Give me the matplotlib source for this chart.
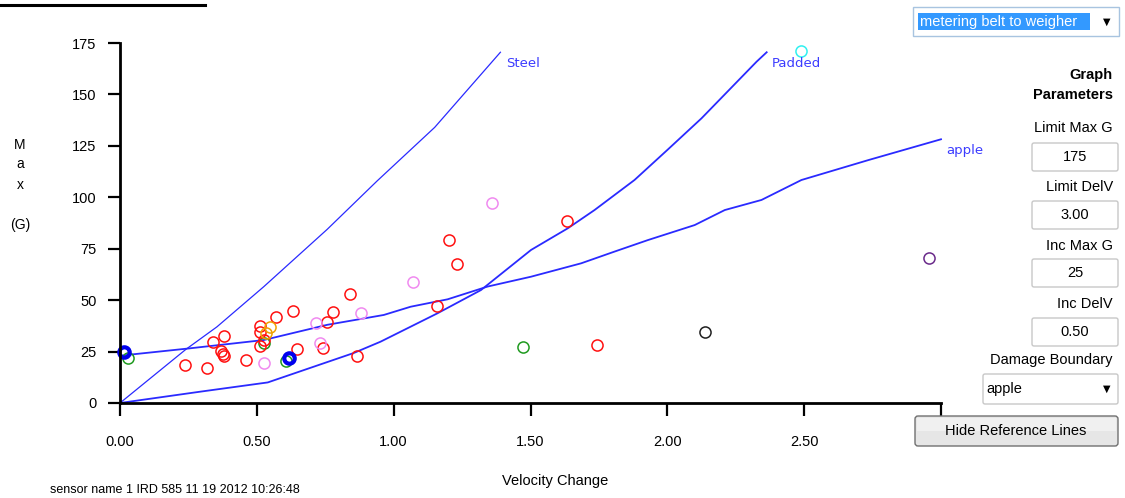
import matplotlib
matplotlib.use("Agg")
import matplotlib.pyplot as plt
from matplotlib.patches import Rectangle, FancyBboxPatch

# ---------------- data ----------------
steel_x = [0.0, 0.24, 0.354, 0.525, 0.757, 0.94, 1.15, 1.39]
steel_y = [0.0, 26.0, 37.0, 56.5, 84.4, 108.0, 134.0, 170.5]
padded_x = [0.0, 0.293, 0.54, 0.854, 0.952, 1.16, 1.319, 1.502, 1.636, 1.734, 1.88,
            2.0, 2.125, 2.326, 2.363]
padded_y = [0.0, 5.5, 10.0, 24.3, 29.8, 43.6, 54.9, 74.4, 84.9, 93.8, 108.4,
            123.0, 138.4, 165.9, 170.5]
apple_x = [0.0, 0.25, 0.525, 0.757, 0.964, 1.062, 1.197, 1.343, 1.502, 1.685, 1.807,
           1.929, 2.1, 2.21, 2.344, 2.49, 2.735, 3.0]
apple_y = [23.0, 26.5, 30.6, 38.0, 42.8, 46.8, 50.4, 56.6, 61.4, 67.9, 73.6,
           79.2, 86.5, 93.8, 98.7, 108.4, 118.1, 128.2]

red_x = [0.238, 0.317, 0.34, 0.379, 0.369, 0.381, 0.375, 0.46, 0.51, 0.513, 0.51, 0.525,
         0.571, 0.631, 0.646, 0.742, 0.755, 0.779, 0.842, 0.867, 1.16, 1.203, 1.231, 1.633, 1.742]
red_y = [18.5, 17.2, 29.5, 32.6, 25.3, 22.8, 24.0, 21.0, 37.4, 34.5, 27.5, 30.5,
         41.6, 44.8, 26.4, 26.6, 39.2, 44.1, 53.0, 22.8, 47.2, 79.2, 67.6, 88.6, 28.2]
violet_x = [0.525, 0.718, 0.73, 0.879, 1.071, 1.361]
violet_y = [19.4, 38.7, 29.3, 43.6, 58.7, 97.4]
orange_x = [0.547, 0.535]
orange_y = [36.8, 34.0]
green_x = [0.03, 0.525, 0.607, 1.474]
green_y = [21.7, 29.0, 20.4, 27.4]
blue_x = [0.016, 0.619]
blue_y = [24.9, 22.0]
black_x = [2.137]
black_y = [34.7]
purple_x = [2.955]
purple_y = [70.3]
cyan_x = [2.488]
cyan_y = [171.1]

xticks = [0.0, 0.5, 1.0, 1.5, 2.0, 2.5, 3.0]
xticklabels = ["0.00", "0.50", "1.00", "1.50", "2.00", "2.50", "3.00"]
yticks = [0, 25, 50, 75, 100, 125, 150, 175]
yticklabels = ["0", "25", "50", "75", "100", "125", "150", "175"]

params = [("Limit Max G", "175"), ("Limit DelV", "3.00"), ("Inc Max G", "25"), ("Inc DelV", "0.50")]

# ---------------- figure ----------------
W, H = 1125, 498
fig = plt.figure(figsize=(W / 100, H / 100), dpi=100)
fig.patch.set_facecolor("white")
plt.rcParams['font.family'] = ['Liberation Sans', 'DejaVu Sans']

L, R, T, B = 120, 941, 43, 403
ax = fig.add_axes([L / W, 1 - B / H, (R - L) / W, (B - T) / H])
ax.set_xlim(0, 3)
ax.set_ylim(0, 175)
for s in ["top", "right"]:
    ax.spines[s].set_visible(False)
for s in ["left", "bottom"]:
    ax.spines[s].set_linewidth(2.0)
ax.set_xticks(xticks)
ax.set_xticklabels(xticklabels)
ax.set_yticks(yticks)
ax.set_yticklabels(yticklabels)
ax.tick_params(axis="x", length=9, width=1.6, pad=14, labelsize=10.5)
ax.tick_params(axis="y", length=9, width=1.6, pad=8, labelsize=10.5)

lc = "#2a2aff"
ax.plot(steel_x, steel_y, color=lc, lw=0.9, clip_on=False)
ax.plot(padded_x, padded_y, color=lc, lw=1.3, clip_on=False)
ax.plot(apple_x, apple_y, color=lc, lw=1.3, clip_on=False)
tc = "#3c3cff"
ax.text(steel_x[-1] + 0.02, steel_y[-1] - 2.5, "Steel", color=tc, fontsize=9.5,
        family="DejaVu Sans", va="top", ha="left")
ax.text(padded_x[-1] + 0.02, padded_y[-1] - 2.5, "Padded", color=tc, fontsize=9.5,
        family="DejaVu Sans", va="top", ha="left")
ax.text(apple_x[-1] + 0.02, apple_y[-1] - 2.5, "apple", color=tc, fontsize=9.5,
        family="DejaVu Sans", va="top", ha="left")

def pts(xs, ys, c, ms=8, mew=1.1):
    ax.plot(xs, ys, "o", mfc="none", mec=c, ms=ms, mew=mew, ls="none", clip_on=False)

pts(green_x, green_y, "#1f9a1f")
pts(red_x, red_y, "#ff1010")
pts(violet_x, violet_y, "#f08af0")
pts(orange_x, orange_y, "#f0a000")
pts(black_x, black_y, "#202020")
pts(purple_x, purple_y, "#6a2a8a")
pts(cyan_x, cyan_y, "#30f0f0")
pts(blue_x, blue_y, "#0000ee", ms=7.5, mew=3.0)

# ---------------- overlay (pixel coords) ----------------
ov = fig.add_axes([0, 0, 1, 1], zorder=5)
ov.set_xlim(0, W)
ov.set_ylim(H, 0)
ov.axis("off")
ov.patch.set_alpha(0)

# y label
for txt, y in [("M", 145), ("a", 164), ("x", 185), ("(G)", 225)]:
    ov.text(20, y, txt, ha="center", va="center", fontsize=10)
ov.text(555, 481, "Velocity Change", ha="center", va="center", fontsize=10.5)

# cropped title underline and footer text
ov.plot([0, 205], [5, 5], color="black", lw=2.2)
ov.text(122, 496, "sensor name", ha="right", va="bottom", fontsize=9)
ov.text(126, 496, "1 IRD 585 11 19 2012 10:26:48", ha="left", va="bottom", fontsize=9)

# dropdown
ov.add_patch(Rectangle((913, 7), 206, 29, fc="white", ec="#a8c4e0", lw=1.0))
ov.add_patch(Rectangle((918, 13), 172, 17, fc="#3399ff", ec="none"))
ov.text(920, 21.5, "metering belt to weigher", color="white", fontsize=10.5,
        va="center", ha="left")
ov.text(1107, 22, "▼", fontsize=7, ha="center", va="center", family="DejaVu Sans")

ov.text(1113, 75, "Graph", fontsize=10.5, weight="bold", ha="right", va="center")
ov.text(1113, 95, "Parameters", fontsize=10.5, weight="bold", ha="right", va="center")

label_y = [128, 187, 246, 304]
box_y = [143, 201, 259, 318]
for (lab, val), ly, by in zip(params, label_y, box_y):
    ov.text(1113, ly, lab, fontsize=10.5, ha="right", va="center")
    ov.add_patch(FancyBboxPatch((1032, by), 86, 28, boxstyle="round,pad=0,rounding_size=2",
                                fc="white", ec="#c8c8c8", lw=1.0))
    ov.text(1075, by + 14, val, fontsize=10.5, ha="center", va="center")

ov.text(1113, 360, "Damage Boundary", fontsize=10.5, ha="right", va="center")
ov.add_patch(FancyBboxPatch((983, 374), 135, 30, boxstyle="round,pad=0,rounding_size=2",
                            fc="white", ec="#c8c8c8", lw=1.0))
ov.text(986, 389, "apple", fontsize=10.5, ha="left", va="center")
ov.text(1107, 389, "▼", fontsize=7, ha="center", va="center", family="DejaVu Sans")

# button
ov.add_patch(FancyBboxPatch((915, 416), 203, 30, boxstyle="round,pad=0,rounding_size=3",
                            fc="#e6e6e6", ec="#707070", lw=1.0))
ov.add_patch(Rectangle((917, 418), 199, 13, fc="#f0f0f0", ec="none"))
ov.text(1016, 431, "Hide Reference Lines", fontsize=10.5, ha="center", va="center")

fig.savefig("out.png", dpi=100, facecolor="white")
